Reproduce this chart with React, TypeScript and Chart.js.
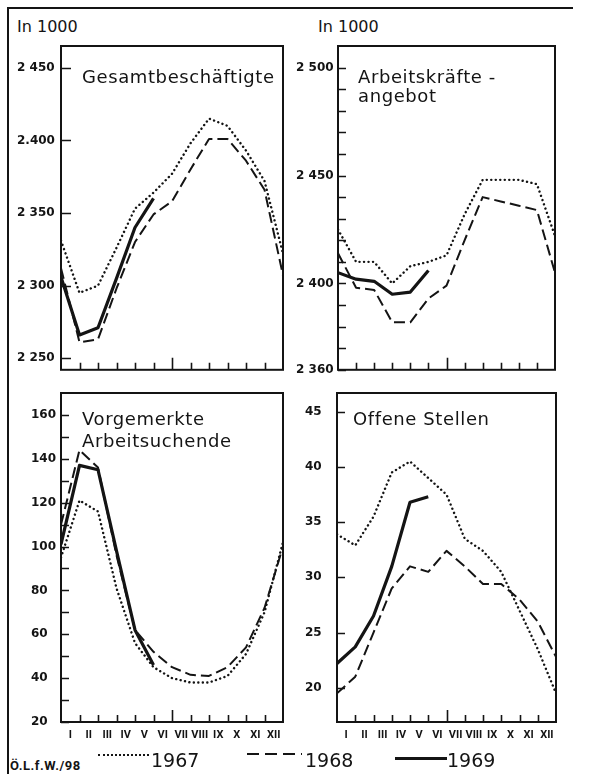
import React, { useEffect, useRef } from 'react';
import { Chart, registerables } from 'chart.js';

Chart.register(...registerables);

// ---------- data ----------
const MONTHS = ['I', 'II', 'III', 'IV', 'V', 'VI', 'VII', 'VIII', 'IX', 'X', 'XI', 'XII'];
const YEARS = ['1967', '1968', '1969'];

// Gesamtbeschäftigte (in 1000)
const GESAMT_1967 = [2331, 2295, 2300, 2326, 2353, 2364, 2377, 2398, 2415, 2410, 2393, 2372, 2322];
const GESAMT_1968 = [2312, 2261, 2263, 2298, 2330, 2349, 2358, 2380, 2401, 2401, 2386, 2366, 2307];
const GESAMT_1969 = [2306, 2266, 2271, 2305, 2340, 2360];
const GESAMT_TICKS = [2250, 2300, 2350, 2400, 2450];
const GESAMT_TICK_LABELS = ['2 250', '2 300', '2 350', '2.400', '2 450'];

// Arbeitskräfteangebot (in 1000)
const ANGEBOT_1967 = [2425, 2410, 2410, 2400, 2408, 2410, 2413, 2432, 2448, 2448, 2448, 2446, 2422];
const ANGEBOT_1968 = [2414, 2398, 2397, 2382, 2382, 2393, 2399, 2420, 2440, 2438, 2436, 2434, 2405];
const ANGEBOT_1969 = [2405, 2402, 2401, 2395, 2396, 2406];
const ANGEBOT_TICKS = [2360, 2370, 2380, 2390, 2400, 2410, 2420, 2430, 2440, 2450, 2460, 2470, 2480, 2490, 2500];
const ANGEBOT_TICK_LABELS = ['2 360', '', '', '', '2 400', '', '', '', '', '2 450', '', '', '', '', '2 500'];

// Vorgemerkte Arbeitsuchende (in 1000)
const VORGEMERKT_1967 = [95, 121, 116, 81, 56, 45, 40, 38, 38, 41, 51, 70, 102];
const VORGEMERKT_1968 = [110, 144, 136, 96, 62, 52, 45, 41.5, 41, 45, 54, 72, 100];
const VORGEMERKT_1969 = [101, 137, 135, 98, 62, 46];
const VORGEMERKT_TICKS = [20, 30, 40, 50, 60, 70, 80, 90, 100, 110, 120, 130, 140, 150, 160];
const VORGEMERKT_TICK_LABELS = ['20', '', '40', '', '60', '', '80', '', '100', '', '120', '', '140', '', '160'];

// Offene Stellen (in 1000)
const OFFEN_1967 = [33.9, 32.9, 35.5, 39.5, 40.5, 39, 37.5, 33.5, 32.4, 30.5, 27, 23.5, 19.5];
const OFFEN_1968 = [19.5, 21, 25, 29, 31, 30.5, 32.4, 31, 29.4, 29.4, 28, 26, 22.8];
const OFFEN_1969 = [22.2, 23.7, 26.5, 31, 36.8, 37.3];
const OFFEN_TICKS = [20, 25, 30, 35, 40, 45];
const OFFEN_TICK_LABELS = ['20', '25', '30', '35', '40', '45'];

// ---------- styling ----------
const INK = '#141414';
const TICK_FONT = { family: '"DejaVu Sans", sans-serif', size: 12, weight: 'bold' as const };
const MONTH_FONT = { family: 'Roboto, "DejaVu Sans", sans-serif', size: 11, weight: 'bold' as const };
const SERIES_STYLES = [
  { borderWidth: 2.4, borderDash: [0.1, 4.4], borderCapStyle: 'round' as const },
  { borderWidth: 2, borderDash: [11, 5], borderCapStyle: 'butt' as const },
  { borderWidth: 3.2, borderDash: [] as number[], borderCapStyle: 'butt' as const },
];

type PanelCfg = {
  title: string[];
  titleDx: number;
  titleDy: number[];
  plot: { left: number; top: number; width: number; height: number };
  yW: number;
  yMin: number;
  yMax: number;
  ticks: number[];
  tickLabels: string[];
  tickLen: number;
  series: number[][];
  months: boolean;
};

const PANELS: PanelCfg[] = [
  {
    title: ['Gesamtbeschäftigte'], titleDx: 21, titleDy: [32],
    plot: { left: 61, top: 46, width: 222, height: 327 }, yW: 44,
    yMin: 2242, yMax: 2465, ticks: GESAMT_TICKS, tickLabels: GESAMT_TICK_LABELS, tickLen: 10,
    series: [GESAMT_1967, GESAMT_1968, GESAMT_1969], months: false,
  },
  {
    title: ['Arbeitskräfte -', 'angebot'], titleDx: 20, titleDy: [32, 51],
    plot: { left: 338, top: 46, width: 217, height: 327 }, yW: 42,
    yMin: 2360, yMax: 2510, ticks: ANGEBOT_TICKS, tickLabels: ANGEBOT_TICK_LABELS, tickLen: 8,
    series: [ANGEBOT_1967, ANGEBOT_1968, ANGEBOT_1969], months: false,
  },
  {
    title: ['Vorgemerkte', 'Arbeitsuchende'], titleDx: 21, titleDy: [27, 49],
    plot: { left: 61, top: 393, width: 222, height: 329 }, yW: 30,
    yMin: 20, yMax: 170, ticks: VORGEMERKT_TICKS, tickLabels: VORGEMERKT_TICK_LABELS, tickLen: 8,
    series: [VORGEMERKT_1967, VORGEMERKT_1968, VORGEMERKT_1969], months: true,
  },
  {
    title: ['Offene Stellen'], titleDx: 16, titleDy: [27],
    plot: { left: 337, top: 393, width: 219, height: 329 }, yW: 32,
    yMin: 16.9, yMax: 46.7, ticks: OFFEN_TICKS, tickLabels: OFFEN_TICK_LABELS, tickLen: 8,
    series: [OFFEN_1967, OFFEN_1968, OFFEN_1969], months: true,
  },
];

const PAD_T = 8;
const PAD_R = 8;
const PAD_B = 4;
const X_H = 24;

function Panel({ cfg }: { cfg: PanelCfg }) {
  const ref = useRef<HTMLCanvasElement>(null);
  const xh = cfg.months ? X_H : 0;
  const w = cfg.yW + cfg.plot.width + PAD_R;
  const h = PAD_T + cfg.plot.height + xh + PAD_B;
  const left = cfg.plot.left - cfg.yW;
  const top = cfg.plot.top - PAD_T;

  useEffect(() => {
    const canvas = ref.current;
    if (!canvas) return;

    const decor = {
      id: 'panelDecor',
      afterDatasetsDraw(chart: any) {
        const { ctx, chartArea, scales } = chart;
        const ca = chartArea;
        ctx.save();
        ctx.strokeStyle = INK;
        ctx.fillStyle = INK;
        ctx.lineWidth = 2;
        ctx.strokeRect(ca.left, ca.top, ca.right - ca.left, ca.bottom - ca.top);
        ctx.lineWidth = 1.6;
        ctx.beginPath();
        cfg.ticks.forEach((v) => {
          const y = Math.round(scales.y.getPixelForValue(v)) + 0.5;
          ctx.moveTo(ca.left, y);
          ctx.lineTo(ca.left + cfg.tickLen, y);
        });
        for (let i = 1; i < MONTHS.length; i++) {
          const x = Math.round(scales.xl.getPixelForValue(i)) + 0.5;
          ctx.moveTo(x, ca.bottom);
          ctx.lineTo(x, ca.bottom - (i === 6 ? 12 : 7));
        }
        ctx.stroke();
        ctx.font = '18px "DejaVu Sans", sans-serif';
        (ctx as any).letterSpacing = '0.6px';
        ctx.textBaseline = 'middle';
        ctx.textAlign = 'left';
        cfg.title.forEach((t, k) => {
          ctx.fillText(t, ca.left + cfg.titleDx, ca.top + cfg.titleDy[k]);
        });
        ctx.restore();
      },
    };

    const chart = new Chart(canvas, {
      type: 'line',
      data: {
        datasets: cfg.series.map((vals, k) => ({
          label: YEARS[k],
          data: vals.map((v, i) => ({ x: i, y: v })),
          xAxisID: 'xl',
          yAxisID: 'y',
          borderColor: INK,
          backgroundColor: INK,
          pointRadius: 0,
          tension: 0,
          fill: false,
          borderJoinStyle: 'round',
          ...SERIES_STYLES[k],
        })),
      },
      options: {
        animation: false,
        responsive: false,
        maintainAspectRatio: false,
        devicePixelRatio: 1,
        layout: { padding: { left: 0, top: PAD_T, right: PAD_R, bottom: PAD_B } },
        plugins: { legend: { display: false }, tooltip: { enabled: false }, title: { display: false } },
        scales: {
          x: {
            type: 'category',
            labels: MONTHS,
            offset: true,
            display: cfg.months,
            position: 'bottom',
            grid: { display: false, drawTicks: false },
            border: { display: false },
            ticks: { color: INK, font: MONTH_FONT, padding: 7, maxRotation: 0, autoSkip: false },
            afterFit: (s: any) => { s.height = xh; },
          },
          xl: {
            type: 'linear',
            axis: 'x',
            position: 'bottom',
            min: 0,
            max: MONTHS.length,
            display: false,
          },
          y: {
            type: 'linear',
            position: 'left',
            min: cfg.yMin,
            max: cfg.yMax,
            grid: { display: false, drawTicks: false },
            border: { display: false },
            afterBuildTicks: (s: any) => { s.ticks = cfg.ticks.map((v) => ({ value: v })); },
            ticks: {
              color: INK,
              font: TICK_FONT,
              crossAlign: 'far',
              padding: 0,
              autoSkip: false,
              callback: (_v: any, i: number) => cfg.tickLabels[i],
            },
            afterFit: (s: any) => { s.width = cfg.yW; },
          },
        },
      } as any,
      plugins: [decor],
    });
    return () => chart.destroy();
  }, []);

  return (
    <canvas
      ref={ref}
      width={w}
      height={h}
      style={{ position: 'absolute', left, top, width: w, height: h, display: 'block' }}
    />
  );
}

const textStyle = (left: number, cy: number, size: number, extra: any = {}) => ({
  position: 'absolute' as const,
  left,
  top: cy - size * 0.5,
  fontSize: size,
  lineHeight: `${size}px`,
  whiteSpace: 'nowrap' as const,
  color: INK,
  fontFamily: '"DejaVu Sans", sans-serif',
  ...extra,
});

export default function App() {
  return (
    <div style={{ position: 'fixed', left: 0, top: 0, width: 591, height: 774, background: '#fff', overflow: 'hidden' }}>
      {/* frame */}
      <div style={{ position: 'absolute', left: 7, top: 7, width: 564, height: 780, borderTop: `2px solid ${INK}`, borderLeft: `2px solid ${INK}` }} />
      <div style={textStyle(17, 27, 16)}>In 1000</div>
      <div style={textStyle(318, 27, 16)}>In 1000</div>

      {PANELS.map((p, i) => (
        <Panel key={i} cfg={p} />
      ))}

      {/* legend */}
      <div style={textStyle(10, 765, 13, { fontWeight: 'bold', fontFamily: 'Roboto, "DejaVu Sans", sans-serif', letterSpacing: '0.5px' })}>Ö.L.f.W./98</div>
      <div style={{ position: 'absolute', left: 98, top: 754, width: 51, height: 0, borderTop: `2px dotted ${INK}` }} />
      <div style={textStyle(151, 760, 19)}>{YEARS[0]}</div>
      <div
        style={{
          position: 'absolute', left: 247, top: 753, width: 55, height: 2,
          background: `repeating-linear-gradient(90deg, ${INK} 0 12px, transparent 12px 18px)`,
        }}
      />
      <div style={textStyle(305, 760, 19)}>{YEARS[1]}</div>
      <div style={{ position: 'absolute', left: 395, top: 757, width: 52, height: 3, background: INK }} />
      <div style={textStyle(447, 760, 19)}>{YEARS[2]}</div>
    </div>
  );
}
